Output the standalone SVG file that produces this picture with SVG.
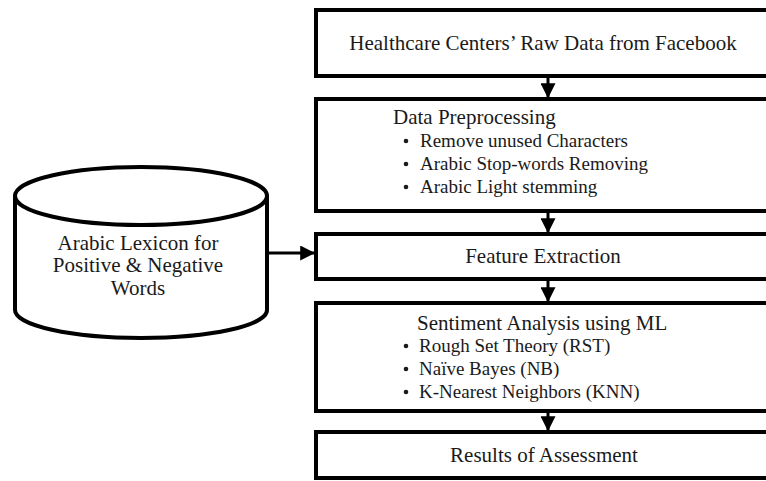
<svg xmlns="http://www.w3.org/2000/svg" width="766" height="481" viewBox="0 0 766 481">
<style>
.box{fill:#fff;stroke:#000;stroke-width:4}
text{font-family:'Liberation Serif','DejaVu Serif',serif;fill:#1a1a1a}
.t{font-size:21px}
.s{font-size:19px}
.c{text-anchor:middle}
.ln{stroke:#000;stroke-width:3;fill:none}
.b{fill:#1a1a1a}
</style>
<defs>
<marker id="ah" markerWidth="5" markerHeight="5" refX="4.6" refY="2.5" orient="auto" markerUnits="strokeWidth">
<path d="M0,0 L5,2.5 L0,5 Z" fill="#000"/>
</marker>
</defs>
<rect width="766" height="481" fill="#fff"/>
<g id="connectors">
<line class="ln" x1="548" y1="78" x2="548" y2="97" marker-end="url(#ah)"/>
<line class="ln" x1="548" y1="213" x2="548" y2="232" marker-end="url(#ah)"/>
<line class="ln" x1="548" y1="281" x2="548" y2="301" marker-end="url(#ah)"/>
<line class="ln" x1="548" y1="413" x2="548" y2="430" marker-end="url(#ah)"/>
<line class="ln" x1="267" y1="253" x2="314" y2="253" marker-end="url(#ah)"/>
</g>
<g id="raw-data">
<rect class="box" x="316" y="10" width="480" height="66"/>
<text class="t c" x="543" y="50">Healthcare Centers’ Raw Data from Facebook</text>
</g>
<g id="preprocessing">
<rect class="box" x="316" y="99" width="480" height="112"/>
<text class="t" x="393" y="124">Data Preprocessing</text>
<circle class="b" cx="406" cy="141" r="2.3"/>
<circle class="b" cx="406" cy="164" r="2.3"/>
<circle class="b" cx="406" cy="187" r="2.3"/>
<text class="s" x="420" y="147">Remove unused Characters</text>
<text class="s" x="420" y="170">Arabic Stop-words Removing</text>
<text class="s" x="420" y="193">Arabic Light stemming</text>
</g>
<g id="feature-extraction">
<rect class="box" x="316" y="234" width="480" height="45"/>
<text class="t c" x="543" y="263">Feature Extraction</text>
</g>
<g id="sentiment">
<rect class="box" x="316" y="303" width="480" height="108"/>
<text class="t" x="417" y="330">Sentiment Analysis using ML</text>
<circle class="b" cx="406" cy="346" r="2.3"/>
<circle class="b" cx="406" cy="369" r="2.3"/>
<circle class="b" cx="406" cy="392" r="2.3"/>
<text class="s" x="419" y="352">Rough Set Theory (RST)</text>
<text class="s" x="419" y="375">Naïve Bayes (NB)</text>
<text class="s" x="419" y="398">K-Nearest Neighbors (KNN)</text>
</g>
<g id="results">
<rect class="box" x="316" y="432" width="480" height="46"/>
<text class="t c" x="544" y="462">Results of Assessment</text>
</g>
<g id="lexicon">
<path d="M15,196 L15,310 A126,28 0 0 0 267,310 L267,196" fill="#fff" stroke="#000" stroke-width="4"/>
<ellipse cx="141" cy="196" rx="126" ry="29" fill="#fff" stroke="#000" stroke-width="4"/>
<text class="t c" x="138" y="250">Arabic Lexicon for</text>
<text class="t c" x="138" y="272">Positive &amp; Negative</text>
<text class="t c" x="138" y="295">Words</text>
</g>
</svg>
